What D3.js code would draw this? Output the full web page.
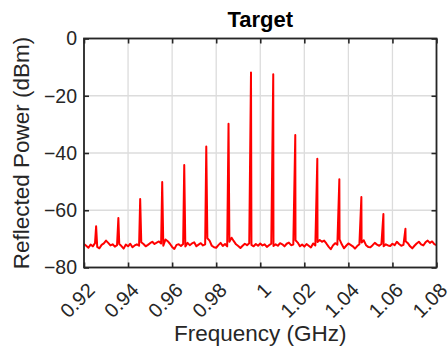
<!DOCTYPE html>
<html>
<head>
<meta charset="utf-8">
<script src="https://cdn.jsdelivr.net/npm/d3@7"></script>
<style>
  body { margin: 0; background: #fff; }
  text { font-family: "Liberation Sans", Arial, sans-serif; }
</style>
</head>
<body>
<svg width="448" height="351"></svg>
<script>
// noise floor, one value every 0.001 GHz from 0.920 to 1.080
var floorStart = 0.92;
var floorStep = 0.001;
var floorLevels = [
  -71.8, -72.4, -73.1, -72.0, -72.6, -71.5, -72.8, -73.3, -72.1, -71.6,
  -70.6, -71.4, -72.3, -71.9, -72.7, -72.2, -71.8, -72.5, -73.4, -72.0,
  -72.6, -71.7, -72.9, -72.3, -71.9, -72.4, -71.2, -71.8, -72.6, -72.1,
  -71.5, -71.0, -71.8, -71.3, -70.9, -71.6, -72.4, -70.2, -70.8, -71.7,
  -72.8, -73.5, -72.1, -71.9, -72.5, -71.8, -72.7, -71.4, -72.2, -71.6,
  -71.2, -72.6, -72.0, -71.5, -72.3, -71.9, -69.8, -70.6, -72.4, -72.9,
  -73.1, -72.2, -71.4, -72.5, -71.8, -72.6, -71.0, -69.6, -70.8, -71.9,
  -72.5, -73.2, -72.4, -71.7, -72.2, -71.5, -72.1, -72.6, -71.8, -72.4,
  -71.6, -72.3, -71.9, -72.8, -72.2, -71.7, -72.5, -71.9, -72.4, -71.5,
  -71.9, -72.6, -71.7, -71.3, -72.2, -72.0, -70.5, -71.3, -72.6, -72.0,
  -72.7, -71.8, -72.4, -73.0, -71.6, -72.3, -71.1, -70.4, -71.0, -70.6,
  -71.6, -72.7, -73.6, -72.3, -71.5, -72.0, -70.2, -71.9, -73.3, -72.4,
  -71.6, -72.1, -72.6, -73.4, -72.5, -71.9, -71.3, -70.5, -72.2, -72.8,
  -72.9, -72.2, -71.4, -72.0, -72.4, -71.8, -72.6, -71.9, -72.3, -72.5,
  -71.7, -72.2, -71.0, -71.8, -72.4, -72.1, -70.8, -71.5, -72.6, -73.3,
  -72.4, -71.6, -71.0, -71.9, -72.3, -71.2, -70.6, -71.4, -70.9, -71.8,
  -72.2
];

// resonance peaks
var peakFreqs = [0.9255, 0.9356, 0.9455, 0.9555, 0.9655, 0.9755, 0.9856, 0.9958,
                 1.0059, 1.0159, 1.0259, 1.0359, 1.0459, 1.0559, 1.0659];
var peakLevels = [-65.6, -62.7, -56.1, -50.1, -44.2, -37.7, -29.8, -11.9,
                  -12.5, -33.7, -42.0, -49.2, -55.4, -61.3, -66.5];

var xTicks = [0.92, 0.94, 0.96, 0.98, 1, 1.02, 1.04, 1.06, 1.08];
var yTicks = [0, -20, -40, -60, -80];

var svg = d3.select('svg');
var plotLeft = 84, plotRight = 436.5, plotTop = 38.5, plotBottom = 267.5;

var x = d3.scaleLinear().domain([0.92, 1.08]).range([plotLeft, plotRight]);
var y = d3.scaleLinear().domain([-80, 0]).range([plotBottom, plotTop]);

// build the trace
var pts = floorLevels.map(function(v, i) { return {f: floorStart + i * floorStep, v: v}; });
peakFreqs.forEach(function(f, i) { pts.push({f: f, v: peakLevels[i]}); });
pts.sort(function(a, b) { return a.f - b.f; });

// grid
svg.append('g').selectAll('line').data(xTicks).enter().append('line')
  .attr('x1', d => x(d)).attr('x2', d => x(d))
  .attr('y1', plotTop).attr('y2', plotBottom)
  .attr('stroke', '#dcdcdc').attr('stroke-width', 1.3);
svg.append('g').selectAll('line').data(yTicks).enter().append('line')
  .attr('x1', plotLeft).attr('x2', plotRight)
  .attr('y1', d => y(d)).attr('y2', d => y(d))
  .attr('stroke', '#dcdcdc').attr('stroke-width', 1.3);

// trace
svg.append('clipPath').attr('id', 'clip').append('rect')
  .attr('x', plotLeft).attr('y', plotTop)
  .attr('width', plotRight - plotLeft).attr('height', plotBottom - plotTop);

var line = d3.line().x(d => x(d.f)).y(d => y(d.v));
svg.append('path').datum(pts)
  .attr('clip-path', 'url(#clip)')
  .attr('d', line)
  .attr('fill', 'none')
  .attr('stroke', '#ff0000')
  .attr('stroke-width', 2)
  .attr('stroke-linejoin', 'round');

// axes with inward ticks
var axisColor = '#262626';
var fmtY = function(d) { return d < 0 ? '\u2212' + Math.abs(d) : d; };

var xAxis = svg.append('g').attr('transform', 'translate(0,' + plotBottom + ')')
  .call(d3.axisBottom(x).tickValues(xTicks).tickSize(-5).tickFormat(''));
var xTop = svg.append('g').attr('transform', 'translate(0,' + plotTop + ')')
  .call(d3.axisTop(x).tickValues(xTicks).tickSize(-5).tickFormat(''));
var yAxis = svg.append('g').attr('transform', 'translate(' + plotLeft + ',0)')
  .call(d3.axisLeft(y).tickValues(yTicks).tickSize(-5).tickFormat(''));
var yRight = svg.append('g').attr('transform', 'translate(' + plotRight + ',0)')
  .call(d3.axisRight(y).tickValues(yTicks).tickSize(-5).tickFormat(''));

[xAxis, xTop, yAxis, yRight].forEach(function(g) {
  g.selectAll('.domain').remove();
  g.selectAll('line').attr('stroke', axisColor).attr('stroke-width', 1.6);
});

svg.append('rect')
  .attr('x', plotLeft).attr('y', plotTop)
  .attr('width', plotRight - plotLeft).attr('height', plotBottom - plotTop)
  .attr('fill', 'none').attr('stroke', axisColor).attr('stroke-width', 1.8);

// tick labels
svg.append('g').selectAll('text').data(yTicks).enter().append('text')
  .attr('x', plotLeft - 7).attr('y', d => y(d))
  .attr('dy', '0.35em')
  .attr('text-anchor', 'end')
  .attr('font-size', 19.5).attr('fill', axisColor)
  .text(fmtY);

svg.append('g').selectAll('text').data(xTicks).enter().append('text')
  .attr('transform', d => 'translate(' + (x(d) + 12) + ',' + (plotBottom + 24) + ') rotate(-45)')
  .attr('text-anchor', 'end')
  .attr('font-size', 20).attr('fill', axisColor)
  .text(d => d);

// titles
svg.append('text')
  .attr('x', (plotLeft + plotRight) / 2).attr('y', 27)
  .attr('text-anchor', 'middle')
  .attr('font-size', 22).attr('font-weight', 'bold').attr('fill', '#000')
  .text('Target');

svg.append('text')
  .attr('x', (plotLeft + plotRight) / 2).attr('y', 341)
  .attr('text-anchor', 'middle')
  .attr('font-size', 22.5).attr('fill', axisColor)
  .text('Frequency (GHz)');

svg.append('text')
  .attr('transform', 'translate(29,' + ((plotTop + plotBottom) / 2) + ') rotate(-90)')
  .attr('text-anchor', 'middle')
  .attr('font-size', 22.5).attr('fill', axisColor)
  .text('Reflected Power (dBm)');
</script>
</body>
</html>
